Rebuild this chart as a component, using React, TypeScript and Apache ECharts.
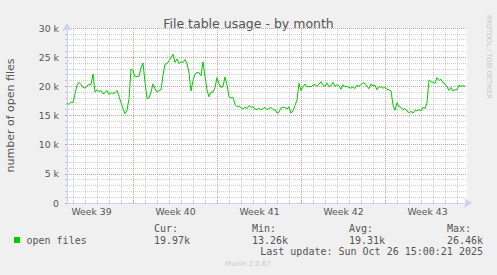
import React, { useEffect, useRef } from "react";
import * as echarts from "echarts";

// x values are hours after Mon 22 Sep 2025 00:00 (start of Week 39)
const X_MIN_HOUR = 35;
const X_MAX_HOUR = 835;
const FIRST_SAMPLE_HOUR = 35;
const HOURS_PER_SAMPLE = 4;

// open files, in thousands, one sample every 4 hours
const openFiles = [
  17.1, 16.9, 17.3, 17.2, 18.7, 20.2, 20.7, 20.3, 19.8, 19.7,
  20.1, 20.3, 20.3, 22.1, 19.0, 19.4, 19.1, 19.3, 18.7, 18.9,
  19.3, 18.6, 18.9, 18.8, 18.9, 19.3, 18.3, 17.2, 16.2, 15.3,
  15.9, 17.9, 23.0, 22.7, 21.6, 21.7, 21.7, 23.2, 24.0, 20.7,
  17.9, 18.0, 19.0, 20.4, 19.6, 19.0, 19.3, 19.4, 21.9, 23.8,
  23.9, 24.4, 24.9, 25.5, 24.1, 24.7, 23.9, 24.2, 24.1, 24.6,
  23.9, 22.3, 19.2, 21.0, 22.1, 22.4, 22.3, 21.8, 24.2, 21.7,
  19.4, 18.2, 19.0, 19.0, 19.8, 21.5, 20.5, 19.8, 20.0, 21.6,
  20.3, 18.2, 18.0, 18.1, 16.9, 16.5, 16.6, 16.3, 16.1, 16.4,
  16.2, 16.7, 16.4, 16.5, 16.1, 16.0, 16.2, 16.0, 16.2, 16.4,
  16.0, 16.2, 16.4, 16.0, 16.0, 15.4, 15.6, 16.3, 16.4, 16.4,
  16.1, 16.5, 15.4, 15.8, 16.7, 17.7, 20.5, 19.3, 19.9, 20.4,
  19.9, 20.0, 19.9, 20.2, 20.3, 20.0, 20.4, 20.8, 20.2, 20.0,
  20.6, 19.9, 20.1, 20.7, 20.0, 20.3, 20.1, 19.5, 20.3, 19.9,
  20.0, 19.8, 19.7, 19.9, 19.6, 20.2, 20.0, 20.3, 20.6, 20.5,
  20.0, 19.6, 20.4, 20.1, 20.2, 19.4, 19.9, 19.9, 19.7, 19.8,
  19.5, 19.4, 19.2, 16.8, 15.9, 17.2, 16.5, 16.4, 16.0, 16.2,
  15.7, 15.5, 15.7, 15.4, 15.9, 15.8, 16.0, 15.8, 16.4, 16.2,
  17.2, 21.1, 20.8, 20.7, 20.5, 21.5, 21.0, 21.2, 20.6, 20.4,
  19.9, 19.3, 19.8, 19.2, 19.4, 19.4, 20.2, 20.0, 20.1, 20.0,
];

const weekLabels = ["Week 39", "Week 40", "Week 41", "Week 42", "Week 43"];
const Y_MAX = 30000;
const Y_MAJOR = 5000;

const titleText = "File table usage - by month";
const yAxisTitle = "number of open files";
const seriesName = "open files";
const legendHeads = ["Cur:", "Min:", "Avg:", "Max:"];
const legendValues = ["19.97k", "13.26k", "19.31k", "26.46k"];
const lastUpdate = "Last update: Sun Oct 26 15:00:21 2025";
const footerText = "Munin 2.0.67";
const sideText = "RRDTOOL / TOBI OETIKER";

const W = 497;
const H = 275;
const SANS = "DejaVu Sans";
const MONO = "DejaVu Sans Mono";
const FONT_COLOR = "#555555";
const LINE_GREEN = "#00cc00";
const AXIS_COLOR = "#c8d0f8";
const MINOR_GRID = "rgba(143,143,143,0.42)";
const MAJOR_GRID = "rgba(222,79,79,0.6)";

export default function App() {
  const ref = useRef<HTMLDivElement>(null);

  useEffect(() => {
    if (!ref.current) return;
    const chart = echarts.init(ref.current, undefined, { renderer: "svg" });

    const data = openFiles.map((v, i) => [FIRST_SAMPLE_HOUR + i * HOURS_PER_SAMPLE, v * 1000]);
    const dayTicks: number[] = [];
    const dayLines: number[] = [];
    for (let h = Math.ceil(X_MIN_HOUR / 24) * 24; h < X_MAX_HOUR; h += 24) {
      dayTicks.push(h);
      if (h % 168 !== 0) dayLines.push(h);
    }
    const weekBounds: number[] = [];
    for (let h = 168; h < X_MAX_HOUR; h += 168) weekBounds.push(h);
    const weekCenters = weekLabels.map((_, i) => 168 * i + 84);

    const gridLineSeries = (name: string, xs: number[], color: string, z: number) => ({
      name,
      type: "line",
      data: [],
      silent: true,
      z,
      markLine: {
        silent: true,
        symbol: ["none", "none"],
        label: { show: false },
        emphasis: { disabled: true },
        lineStyle: { color, type: [1, 1], width: 1 },
        data: xs.map((x) => ({ xAxis: x })),
      },
    });

    const colX = [154, 252, 349, 447];
    const graphics: any[] = [
      {
        type: "text",
        x: 10,
        y: 115.5,
        rotation: Math.PI / 2,
        style: {
          text: yAxisTitle,
          font: `11px "${SANS}"`,
          fill: FONT_COLOR,
          align: "center",
          verticalAlign: "middle",
        },
      },
      {
        type: "text",
        x: 489,
        y: 15,
        rotation: -Math.PI / 2,
        style: {
          text: sideText,
          font: `6.5px "${SANS}"`,
          fill: "#c4c4c4",
          align: "left",
          verticalAlign: "middle",
        },
      },
      {
        type: "rect",
        shape: { x: 14, y: 237, width: 6, height: 6 },
        style: { fill: LINE_GREEN },
      },
      {
        type: "text",
        x: 26.5,
        y: 240,
        style: { text: seriesName, font: `10px "${MONO}"`, fill: FONT_COLOR, verticalAlign: "middle" },
      },
      ...legendHeads.map((t, i) => ({
        type: "text",
        x: colX[i],
        y: 228,
        style: { text: t, font: `10px "${MONO}"`, fill: FONT_COLOR, verticalAlign: "middle" },
      })),
      ...legendValues.map((t, i) => ({
        type: "text",
        x: colX[i],
        y: 240,
        style: { text: t, font: `10px "${MONO}"`, fill: FONT_COLOR, verticalAlign: "middle" },
      })),
      {
        type: "text",
        x: 483,
        y: 251.5,
        style: { text: lastUpdate, font: `10px "${MONO}"`, fill: FONT_COLOR, align: "right", verticalAlign: "middle" },
      },
      {
        type: "text",
        x: 248,
        y: 263.5,
        style: { text: footerText, font: `7px "${SANS}"`, fill: "#c8c8c8", align: "center", verticalAlign: "middle" },
      },
    ];

    chart.setOption({
      animation: false,
      backgroundColor: "#f0f0f0",
      title: {
        text: titleText,
        left: "center",
        top: 12,
        textStyle: { fontFamily: SANS, fontSize: 12.5, fontWeight: "normal", color: FONT_COLOR },
      },
      grid: {
        left: 67,
        right: W - 467,
        top: 28,
        bottom: H - 203,
        show: true,
        backgroundColor: "#ffffff",
        borderWidth: 0,
      },
      xAxis: {
        type: "value",
        min: X_MIN_HOUR,
        max: X_MAX_HOUR,
        axisLine: {
          show: true,
          lineStyle: { color: AXIS_COLOR, width: 1 },
          symbol: ["none", "arrow"],
          symbolSize: [7, 8],
          symbolOffset: [0, 5],
        },
        axisTick: {
          show: true,
          customValues: dayTicks,
          length: 2,
          inside: true,
          lineStyle: { color: MINOR_GRID },
        },
        axisLabel: {
          show: true,
          customValues: weekCenters,
          formatter: (v: number) => weekLabels[Math.round((v - 84) / 168)] ?? "",
          fontFamily: SANS,
          fontSize: 9.3,
          color: FONT_COLOR,
          margin: 4,
        },
        splitLine: { show: false },
      },
      yAxis: {
        type: "value",
        min: 0,
        max: Y_MAX,
        interval: Y_MAJOR,
        axisLine: {
          show: true,
          lineStyle: { color: AXIS_COLOR, width: 1 },
          symbol: ["none", "arrow"],
          symbolSize: [7, 8],
          symbolOffset: [0, 5],
        },
        axisTick: { show: true, length: 2, lineStyle: { color: MAJOR_GRID } },
        minorTick: { show: true, splitNumber: 5, length: 2, lineStyle: { color: MINOR_GRID } },
        axisLabel: {
          fontFamily: SANS,
          fontSize: 9.3,
          color: FONT_COLOR,
          margin: 8,
          formatter: (v: number) => (v === 0 ? "0" : `${v / 1000} k`),
        },
        splitLine: { show: true, lineStyle: { color: MAJOR_GRID, type: [1, 1], width: 1 } },
        minorSplitLine: { show: true, lineStyle: { color: MINOR_GRID, type: [1, 1], width: 1 } },
      },
      series: [
        gridLineSeries("day grid", dayLines, MINOR_GRID, 1),
        gridLineSeries("week grid", weekBounds, MAJOR_GRID, 2),
        {
          name: seriesName,
          type: "line",
          data,
          showSymbol: false,
          symbol: "none",
          lineStyle: { color: LINE_GREEN, width: 1 },
          z: 5,
        },
      ],
      graphic: graphics,
    });

    return () => chart.dispose();
  }, []);

  return (
    <div
      ref={ref}
      style={{ position: "fixed", left: 0, top: 0, width: W, height: H }}
    />
  );
}
